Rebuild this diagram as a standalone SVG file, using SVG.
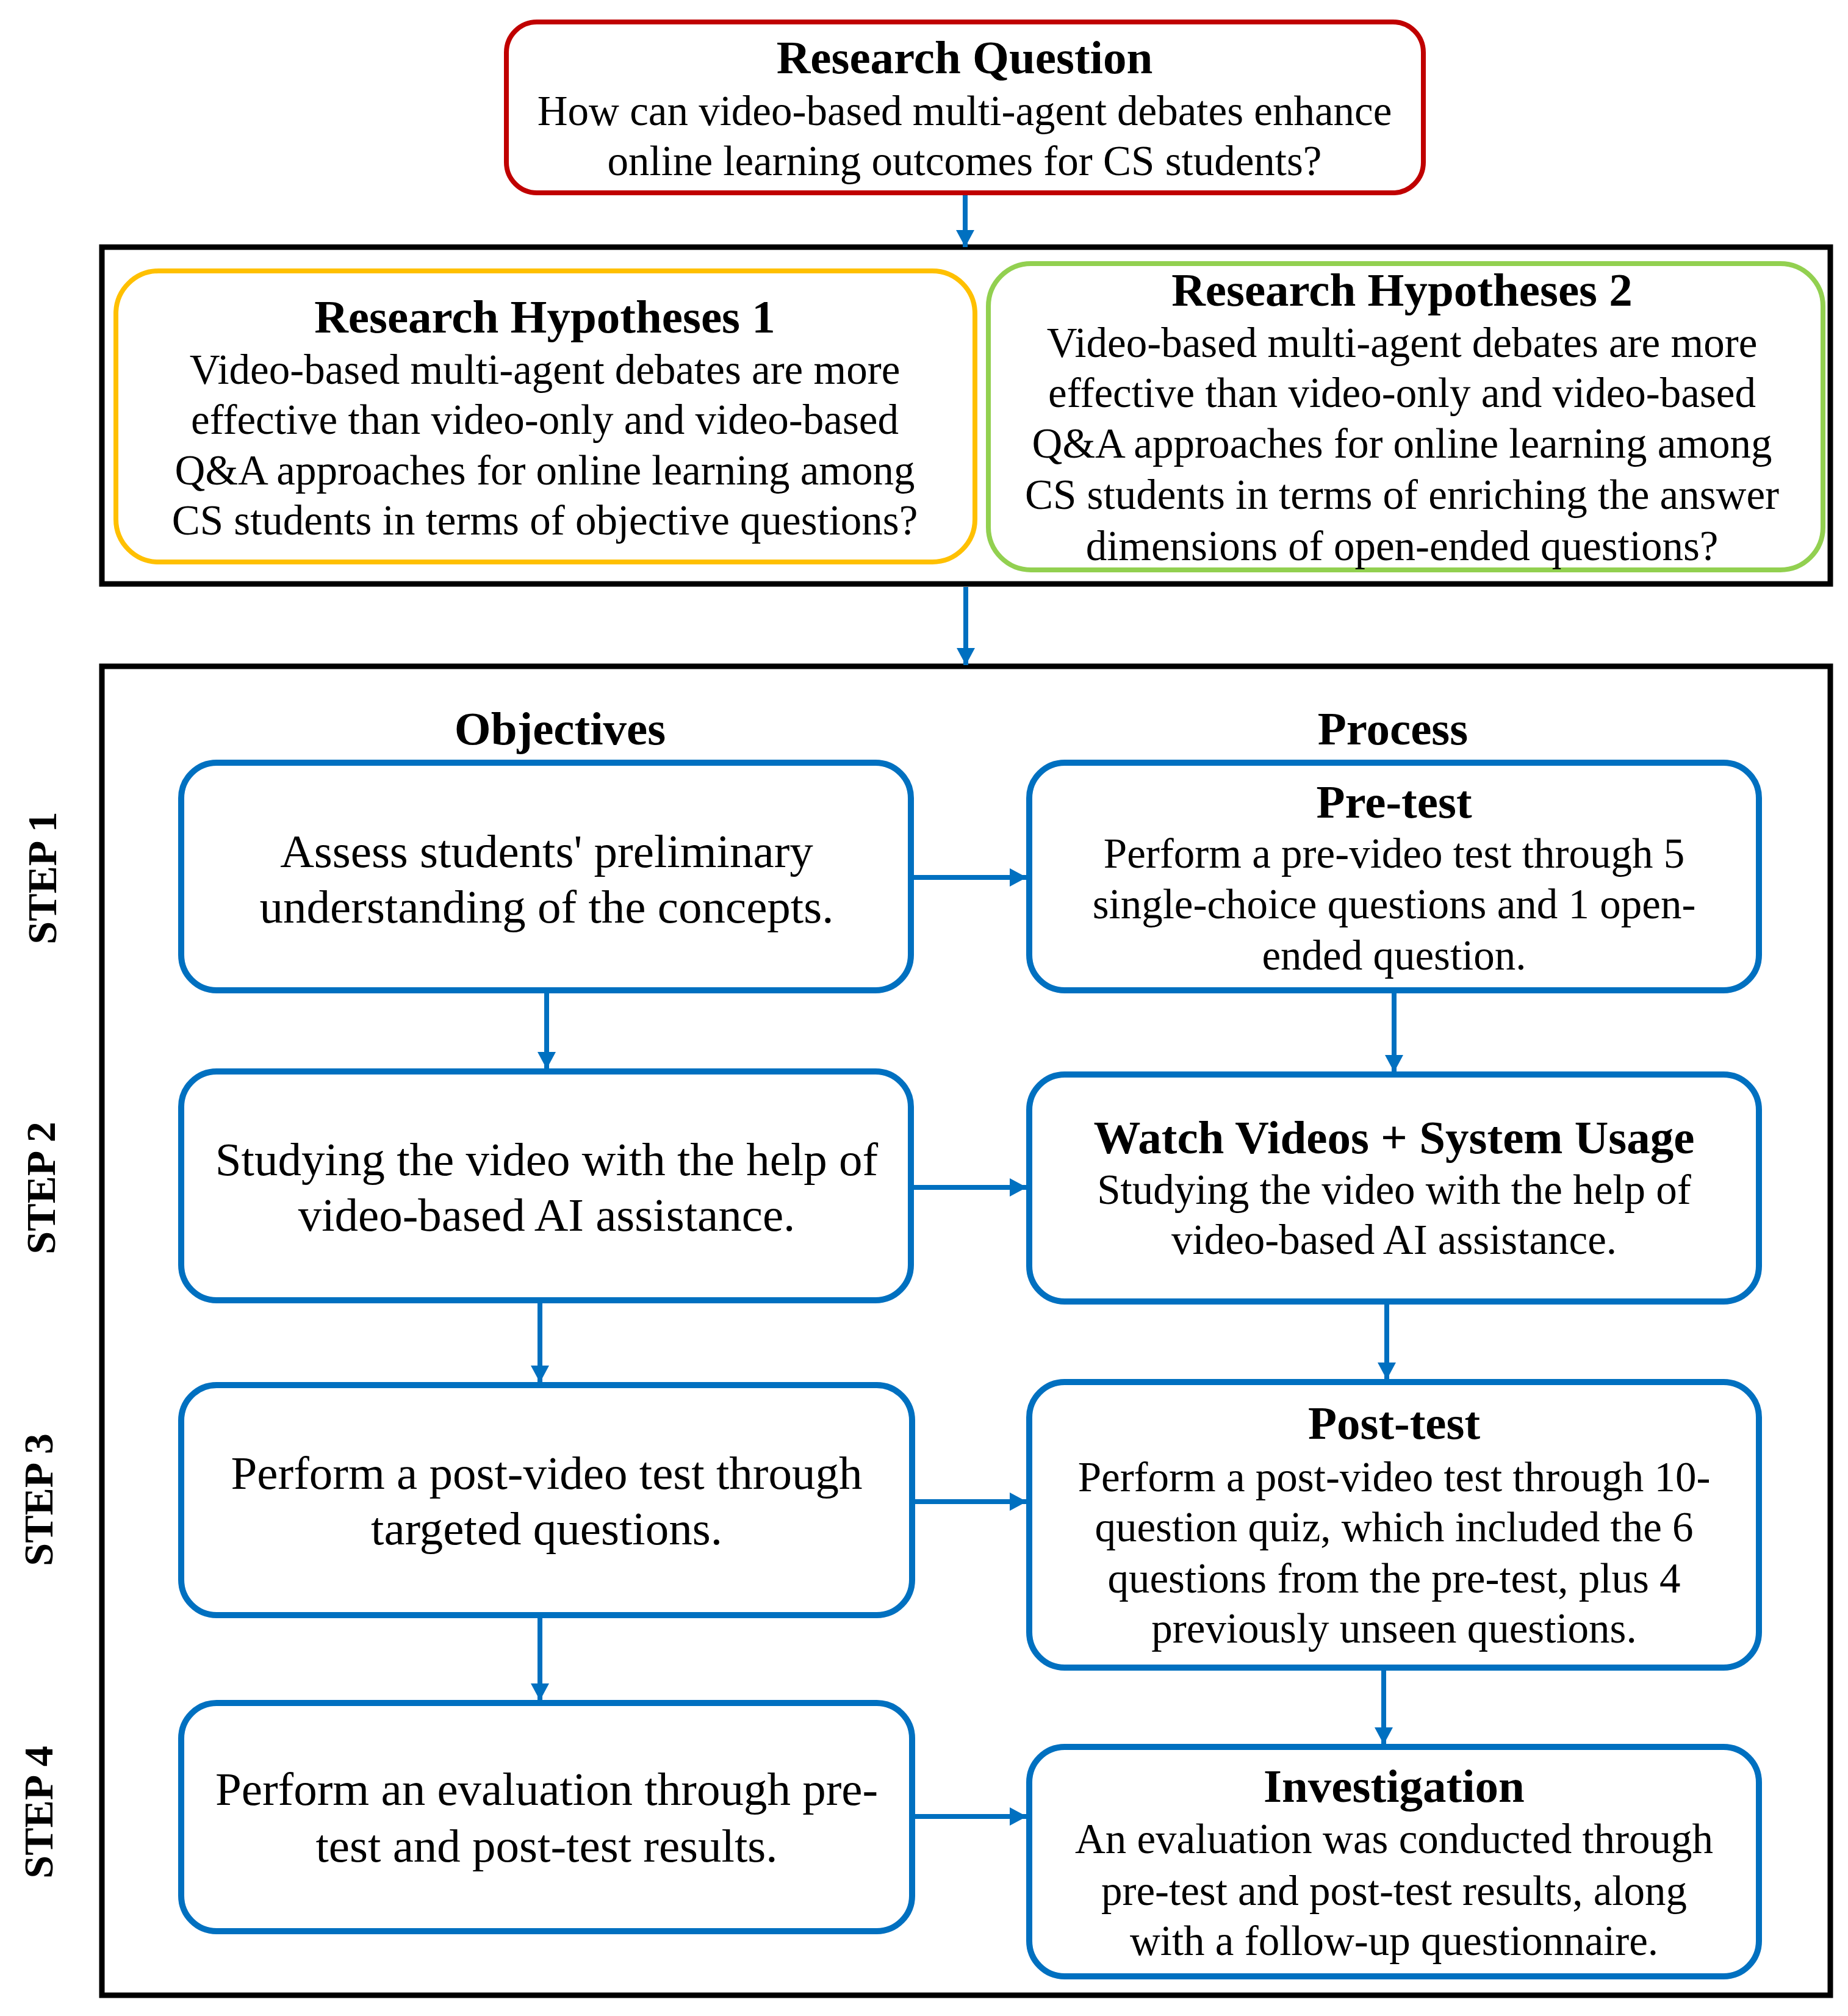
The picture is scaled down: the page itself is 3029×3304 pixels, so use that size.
<svg xmlns="http://www.w3.org/2000/svg" width="3029" height="3304" viewBox="0 0 3029 3304">
<style>
text{font-family:"Liberation Serif","Times New Roman",serif;fill:#000;text-anchor:middle}
.h{font-weight:bold;font-size:77px}
.b{font-size:69px}
.o{font-size:77px}
.s{font-weight:bold;font-size:68px}
.blue{fill:#fff;stroke:#0070C0;stroke-width:10}
.frame{fill:none;stroke:#000;stroke-width:9}
.c{stroke:#0070C0;stroke-width:8;fill:none;marker-end:url(#ah)}
</style>
<defs>
<marker id="ah" markerUnits="userSpaceOnUse" markerWidth="30" markerHeight="30" refX="28" refY="15" orient="auto">
<path d="M0,0 L28,15 L0,30 z" fill="#0070C0"/>
</marker>
</defs>
<rect width="3029" height="3304" fill="#fff"/>

<g id="frames">
<rect class="frame" x="167" y="405" width="2833" height="552"/>
<rect class="frame" x="167" y="1092" width="2833" height="2178"/>
</g>

<g id="rq">
<rect x="830" y="36" width="1503" height="280" rx="50" fill="#fff" stroke="#C00000" stroke-width="8"/>
<text class="h" x="1581" y="120">Research Question</text>
<text class="b" x="1581" y="205">How can video-based multi-agent debates enhance</text>
<text class="b" x="1581" y="287">online learning outcomes for CS students?</text>
</g>

<g id="hyp1">
<rect x="190" y="444" width="1408" height="477" rx="70" fill="#fff" stroke="#FFC000" stroke-width="8"/>
<text class="h" x="893" y="545">Research Hypotheses 1</text>
<text class="b" x="893" y="629">Video-based multi-agent debates are more</text>
<text class="b" x="893" y="711">effective than video-only and video-based</text>
<text class="b" x="893" y="794">Q&amp;A approaches for online learning among</text>
<text class="b" x="893" y="876">CS students in terms of objective questions?</text>
</g>

<g id="hyp2">
<rect x="1620" y="432" width="1368" height="502" rx="70" fill="#fff" stroke="#92D050" stroke-width="8"/>
<text class="h" x="2298" y="501">Research Hypotheses 2</text>
<text class="b" x="2298" y="585">Video-based multi-agent debates are more</text>
<text class="b" x="2298" y="667">effective than video-only and video-based</text>
<text class="b" x="2298" y="750">Q&amp;A approaches for online learning among</text>
<text class="b" x="2298" y="834">CS students in terms of enriching the answer</text>
<text class="b" x="2298" y="918">dimensions of open-ended questions?</text>
</g>

<g id="headers">
<text class="h" x="918" y="1220">Objectives</text>
<text class="h" x="2283" y="1220">Process</text>
</g>

<g id="steps">
<text class="s" transform="translate(92,1439) rotate(-90)">STEP 1</text>
<text class="s" transform="translate(90,1947) rotate(-90)">STEP 2</text>
<text class="s" transform="translate(86,2458) rotate(-90)">STEP 3</text>
<text class="s" transform="translate(86,2970) rotate(-90)">STEP 4</text>
</g>

<g id="obj1">
<rect class="blue" x="297" y="1250" width="1196" height="373" rx="58"/>
<text class="o" x="896" y="1421">Assess students' preliminary</text>
<text class="o" x="896" y="1512">understanding of the concepts.</text>
</g>
<g id="proc1">
<rect class="blue" x="1687" y="1250" width="1196" height="373" rx="58"/>
<text class="h" x="2285" y="1340">Pre-test</text>
<text class="b" x="2285" y="1422">Perform a pre-video test through 5</text>
<text class="b" x="2285" y="1505">single-choice questions and 1 open-</text>
<text class="b" x="2285" y="1589">ended question.</text>
</g>

<g id="obj2">
<rect class="blue" x="297" y="1756" width="1196" height="375" rx="58"/>
<text class="o" x="896" y="1926">Studying the video with the help of</text>
<text class="o" x="896" y="2017">video-based AI assistance.</text>
</g>
<g id="proc2">
<rect class="blue" x="1687" y="1761" width="1196" height="372" rx="58"/>
<text class="h" x="2285" y="1890">Watch Videos + System Usage</text>
<text class="b" x="2285" y="1973">Studying the video with the help of</text>
<text class="b" x="2285" y="2055">video-based AI assistance.</text>
</g>

<g id="obj3">
<rect class="blue" x="297" y="2270" width="1198" height="377" rx="58"/>
<text class="o" x="896" y="2440">Perform a post-video test through</text>
<text class="o" x="896" y="2531">targeted questions.</text>
</g>
<g id="proc3">
<rect class="blue" x="1687" y="2265" width="1196" height="468" rx="58"/>
<text class="h" x="2285" y="2358">Post-test</text>
<text class="b" x="2285" y="2444">Perform a post-video test through 10-</text>
<text class="b" x="2285" y="2526">question quiz, which included the 6</text>
<text class="b" x="2285" y="2610">questions from the pre-test, plus 4</text>
<text class="b" x="2285" y="2692">previously unseen questions.</text>
</g>

<g id="obj4">
<rect class="blue" x="297" y="2791" width="1198" height="374" rx="58"/>
<text class="o" x="896" y="2958">Perform an evaluation through pre-</text>
<text class="o" x="896" y="3051">test and post-test results.</text>
</g>
<g id="proc4">
<rect class="blue" x="1687" y="2863" width="1196" height="376" rx="58"/>
<text class="h" x="2285" y="2953">Investigation</text>
<text class="b" x="2285" y="3037">An evaluation was conducted through</text>
<text class="b" x="2285" y="3122">pre-test and post-test results, along</text>
<text class="b" x="2285" y="3204">with a follow-up questionnaire.</text>
</g>

<g id="connectors">
<line class="c" x1="1582" y1="320" x2="1582" y2="405"/>
<line class="c" x1="1583" y1="962" x2="1583" y2="1090"/>
<line class="c" x1="1498" y1="1438" x2="1683" y2="1438"/>
<line class="c" x1="1498" y1="1946" x2="1683" y2="1946"/>
<line class="c" x1="1500" y1="2461" x2="1683" y2="2461"/>
<line class="c" x1="1500" y1="2977" x2="1683" y2="2977"/>
<line class="c" x1="896" y1="1628" x2="896" y2="1752"/>
<line class="c" x1="885" y1="2136" x2="885" y2="2266"/>
<line class="c" x1="885" y1="2652" x2="885" y2="2787"/>
<line class="c" x1="2285" y1="1628" x2="2285" y2="1757"/>
<line class="c" x1="2273" y1="2138" x2="2273" y2="2261"/>
<line class="c" x1="2268" y1="2738" x2="2268" y2="2859"/>
</g>
</svg>
